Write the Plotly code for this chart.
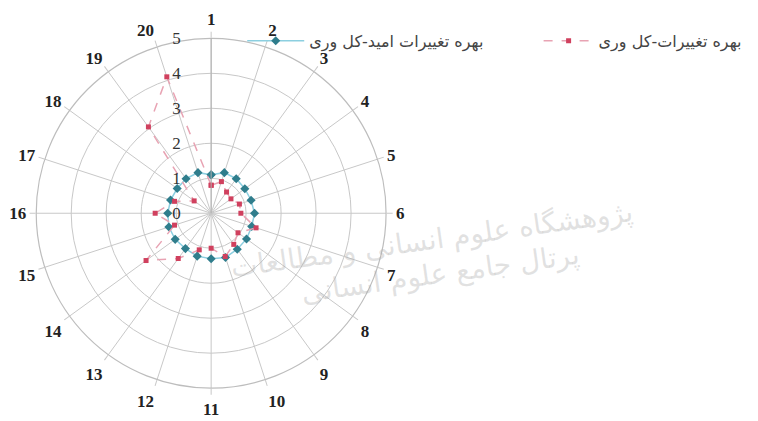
import plotly.graph_objects as go

categories = [str(i) for i in range(1, 21)]
radial_ticks = [0, 1, 2, 3, 4, 5]

name_expected = "بهره تغییرات امید-کل وری"
name_changes = "بهره تغییرات-کل وری"

values_expected = [1.10, 1.22, 1.22, 1.19, 1.20, 1.24, 1.22, 1.25, 1.27, 1.33,
                   1.30, 1.29, 1.25, 1.27, 1.27, 1.24, 1.22, 1.20, 1.22, 1.22]
values_changes = [0.80, 0.95, 0.75, 0.70, 0.85, 0.85, 1.35, 0.95, 1.10, 1.30,
                  1.00, 1.10, 1.60, 2.30, 1.10, 1.60, 1.10, 0.60, 3.05, 4.10]

theta_closed = categories + categories[:1]

fig = go.Figure()
fig.add_trace(go.Scatterpolar(
    r=values_expected + values_expected[:1], theta=theta_closed,
    mode="lines+markers", name=name_expected, legend="legend",
    line=dict(color="#8ccfe0", width=1.5),
    marker=dict(symbol="diamond", size=7, color="#2f7d8c"),
))
fig.add_trace(go.Scatterpolar(
    r=values_changes + values_changes[:1], theta=theta_closed,
    mode="lines+markers", name=name_changes, legend="legend2",
    line=dict(color="#e8a3b3", width=1.5, dash="dash"),
    marker=dict(symbol="square", size=5, color="#d0405e"),
))

# watermark text seen in the picture
fig.add_annotation(text="پژوهشگاه علوم انسانی و مطالعات", x=0.56, y=0.45,
                   xref="paper", yref="paper", showarrow=False, textangle=-8,
                   font=dict(size=28, color="rgba(170,170,170,0.35)", family="DejaVu Sans"))
fig.add_annotation(text="پرتال جامع علوم انسانی", x=0.57, y=0.28,
                   xref="paper", yref="paper", showarrow=False, textangle=-8,
                   font=dict(size=28, color="rgba(170,170,170,0.35)", family="DejaVu Sans"))

legend_common = dict(orientation="h", y=0.922, xanchor="left", yanchor="middle",
                     font=dict(size=16, color="#444444", family="DejaVu Sans"),
                     bgcolor="rgba(0,0,0,0)")

fig.update_layout(
    width=758, height=421,
    margin=dict(l=0, r=0, t=0, b=0),
    paper_bgcolor="white",
    showlegend=True,
    legend=dict(x=0.309, itemwidth=57, **legend_common),
    legend2=dict(x=0.70, itemwidth=50, **legend_common),
    polar=dict(
        domain=dict(x=[0.037, 0.499], y=[0.097, 0.928]),
        bgcolor="white",
        angularaxis=dict(
            direction="clockwise", rotation=90,
            categoryorder="array", categoryarray=categories,
            tickfont=dict(size=17, color="#222222", family="Liberation Serif", weight="bold"),
            gridcolor="#c8c8c8", linecolor="#bdbdbd", linewidth=1.2,
            ticks="outside", ticklen=6, tickcolor="#c8c8c8",
        ),
        radialaxis=dict(
            range=[0, 5], tickvals=radial_ticks, ticktext=[str(t) for t in radial_ticks],
            angle=90, tickangle=90, side="counterclockwise",
            tickfont=dict(size=17, color="#333333", family="Liberation Serif"),
            gridcolor="#c8c8c8", linecolor="#b0b0b0", showline=True,
            ticks="outside", ticklen=24, tickcolor="rgba(0,0,0,0)",
        ),
    ),
)

fig.write_html("out.html")
